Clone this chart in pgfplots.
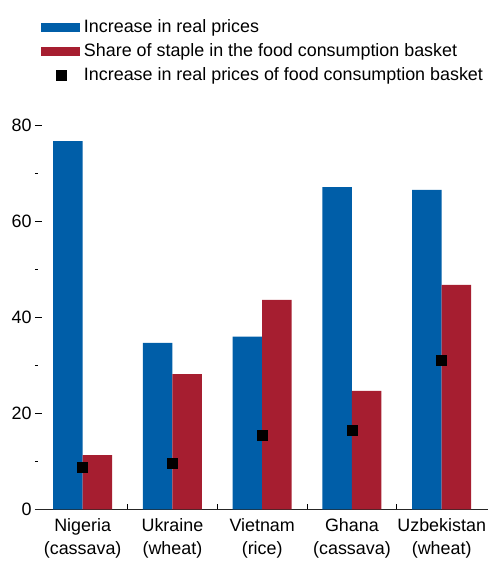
\documentclass[border=0pt]{standalone}
\usepackage{pgfplots}
\pgfplotsset{compat=1.18}
\usepackage{fontspec}
\setmainfont{Liberation Sans}
\definecolor{barblue}{RGB}{0,94,168}
\definecolor{barred}{RGB}{166,30,48}
\newcommand{\chartfont}{\fontsize{17.9}{23}\selectfont}

\begin{document}
\begin{tikzpicture}
\begin{axis}[
  scale only axis, width=453pt, height=383.6pt,
  anchor=south west, at={(0,0)},
  xmin=-0.531, xmax=4.516, ymin=0, ymax=80,
  axis x line*=bottom, axis y line*=left,
  y axis line style={draw=none},
  x axis line style={line width=1.1pt, black!85},
  xtick={0,1,2,3,4},
  xticklabels={Nigeria\\(cassava), Ukraine\\(wheat), Vietnam\\(rice), Ghana\\(cassava), Uzbekistan\\(wheat)},
  x tick label style={align=center, yshift=-6pt},
  xtick style={draw=none},
  extra x ticks={0.5,1.5,2.5,3.5},
  extra x tick labels={},
  extra x tick style={xtick style={draw=black, line width=0.8pt}, major tick length=5pt},
  ytick={0,20,40,60,80}, minor ytick={10,30,50,70},
  major tick length=7pt, minor tick length=3.5pt,
  ytick style={line width=0.8pt, black},
  tick label style={font=\chartfont},
  /pgf/number format/assume math mode=true,
  legend style={draw=none, fill=none, at={(axis description cs:0.0132,1.278)},
    anchor=north west, inner sep=0pt, outer sep=0pt, row sep=7pt, column sep=4pt,
    nodes={inner sep=0pt, text height=13pt, text depth=4pt, font=\chartfont}},
  legend cell align=left,
  clip=false,
]
\addplot[ybar, bar width=29.5pt, bar shift=-14.75pt, fill=barblue, draw=none,
  legend image code/.code={\fill[barblue] (0pt,-4.5pt) rectangle (39pt,4.5pt);}]
  coordinates {(0,76.8) (1,34.7) (2,36.0) (3,67.2) (4,66.6)};
\addlegendentry{Increase in real prices}
\addplot[ybar, bar width=29.5pt, bar shift=14.75pt, fill=barred, draw=none,
  legend image code/.code={\fill[barred] (0pt,-4.5pt) rectangle (39pt,4.5pt);}]
  coordinates {(0,11.3) (1,28.2) (2,43.7) (3,24.7) (4,46.8)};
\addlegendentry{Share of staple in the food consumption basket}
\addplot[only marks, mark=square*, mark size=5pt, mark options={draw=none, fill=black},
  legend image code/.code={\path[draw=none, fill=none] (0pt,0pt) -- (39pt,0pt); \fill[black] (15.5pt,-5pt) rectangle (25.5pt,5pt);}]
  coordinates {(0,8.7) (1,9.7) (2,15.5) (3,16.5) (4,31.1)};
\addlegendentry{Increase in real prices of food consumption basket}
\end{axis}
\useasboundingbox (-35pt,-54.7pt) rectangle (453pt,509.3pt);
\end{tikzpicture}
\end{document}
